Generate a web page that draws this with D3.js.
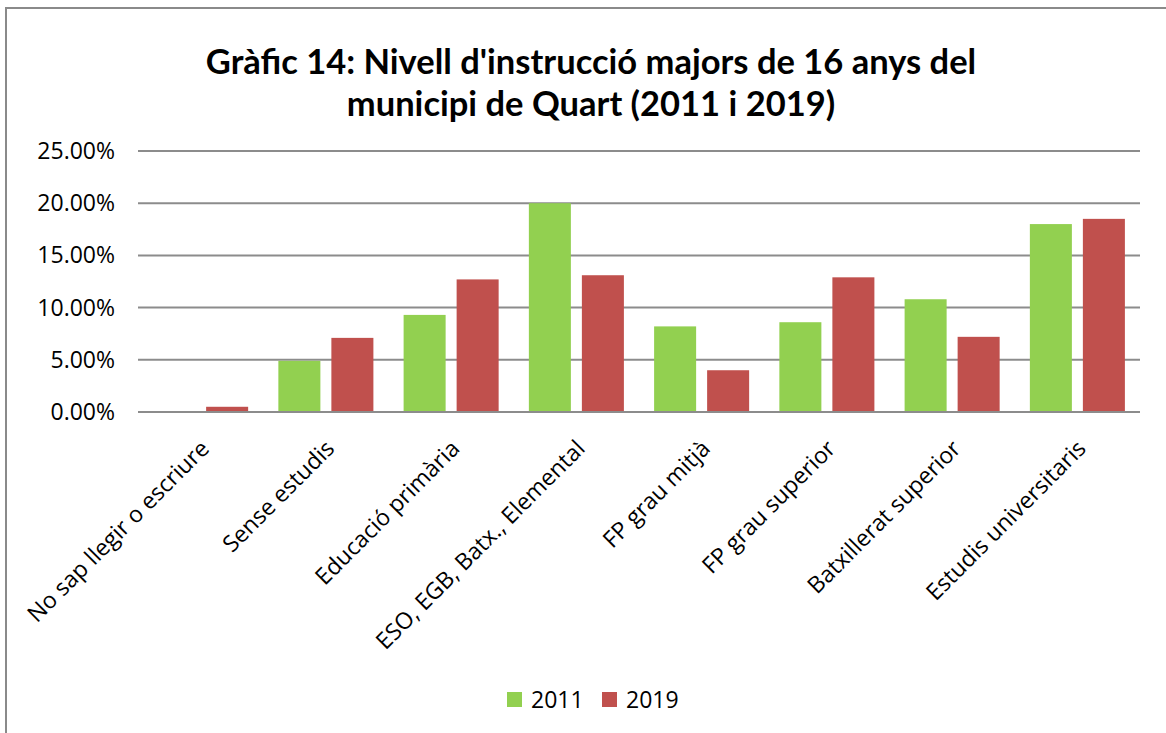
<!DOCTYPE html>
<html>
<head>
<meta charset="utf-8">
<script src="https://cdn.jsdelivr.net/npm/d3@7"></script>
<style>
  body { margin: 0; background: #fff; }
  text { fill: #000; }
</style>
</head>
<body>
<svg id="chart" width="1166" height="733"></svg>
<script>
const categories = ["No sap llegir o escriure", "Sense estudis", "Educació primària", "ESO, EGB, Batx., Elemental",
  "FP grau mitjà", "FP grau superior", "Batxillerat superior", "Estudis universitaris"]
const series = ["2011", "2019"]
const values2011 = [0, 4.9, 9.3, 20.0, 8.2, 8.6, 10.8, 18.0]
const values2019 = [0.5, 7.1, 12.7, 13.1, 4.0, 12.9, 7.2, 18.5]
const yTicks = [0, 5, 10, 15, 20, 25]
const colors = ["#92D050", "#C0504D"]

const margin = { left: 138, right: 26, top: 151, bottom: 321 }
const width = 1166 - margin.left - margin.right
const height = 733 - margin.top - margin.bottom
const labelFont = "'Open Sans', sans-serif"

let svg = d3.select('#chart')

// outer chart border (right and bottom edges fall outside the picture)
svg.append("rect")
    .attr("x", 6).attr("y", 8)
    .attr("width", 1200).attr("height", 800)
    .attr("fill", "none")
    .attr("stroke", "#8a8a8a")
    .attr("stroke-width", 2)

let title = svg.append("text")
    .attr("text-anchor", "middle")
    .style("font-family", "Lato, 'Open Sans', sans-serif")
    .style("font-weight", "bold")
    .style("font-size", "34.5px")
title.append("tspan").attr("x", 591).attr("y", 74).text("Gràfic 14: Nivell d'instrucció majors de 16 anys del")
title.append("tspan").attr("x", 591).attr("y", 116).text("municipi de Quart (2011 i 2019)")

let g = svg.append("g")
    .attr("transform", "translate(" + margin.left + "," + margin.top + ")")

let y = d3.scaleLinear().domain([0, 25]).range([height, 0])
let x0 = d3.scaleBand().domain(categories).range([0, width]).padding(0)
let x1 = d3.scaleBand().domain(series).range([0, x0.bandwidth()])
    .paddingInner(0.2075).paddingOuter(0.285)

// gridlines
g.append("g")
    .selectAll("line")
    .data(yTicks)
    .join("line")
    .attr("x1", 0).attr("x2", width)
    .attr("y1", d => y(d)).attr("y2", d => y(d))
    .attr("stroke", "#8c8c8c")
    .attr("stroke-width", 2)

g.append("g")
    .selectAll("text")
    .data(yTicks)
    .join("text")
    .attr("x", -23)
    .attr("y", d => y(d))
    .attr("dy", "0.35em")
    .attr("text-anchor", "end")
    .style("font-family", labelFont)
    .style("font-size", "23px")
    .text(d => d.toFixed(2) + "%")

let data = categories.map((c, i) => ({ cat: c, vals: [values2011[i], values2019[i]] }))

let groups = g.append("g")
    .selectAll("g")
    .data(data)
    .join("g")
    .attr("transform", d => "translate(" + x0(d.cat) + ",0)")

groups.selectAll("rect")
    .data(d => d.vals.map((v, i) => ({ key: series[i], value: v, i: i })))
    .join("rect")
    .attr("x", d => x1(d.key))
    .attr("width", x1.bandwidth())
    .attr("y", d => y(d.value))
    .attr("height", d => y(0) - y(d.value))
    .attr("fill", d => colors[d.i])

// baseline on top of bars
g.append("line")
    .attr("x1", 0).attr("x2", width)
    .attr("y1", y(0)).attr("y2", y(0))
    .attr("stroke", "#8c8c8c")
    .attr("stroke-width", 2)

// rotated category labels
g.append("g")
    .selectAll("text")
    .data(categories)
    .join("text")
    .attr("transform", d => "translate(" + (x0(d) + x0.bandwidth() / 2 + 10) + "," + (height + 38) + ") rotate(-45)")
    .attr("text-anchor", "end")
    .style("font-family", labelFont)
    .style("font-size", "23px")
    .text(d => d)

// legend
let legend = svg.append("g")
    .selectAll("g")
    .data(series)
    .join("g")
    .attr("transform", (d, i) => "translate(" + (507 + i * 95) + ",692)")
legend.append("rect")
    .attr("width", 15).attr("height", 15)
    .attr("fill", (d, i) => colors[i])
legend.append("text")
    .attr("x", 24).attr("y", 8)
    .attr("dy", "0.35em")
    .style("font-family", labelFont)
    .style("font-size", "23px")
    .text(d => d)
</script>
</body>
</html>
